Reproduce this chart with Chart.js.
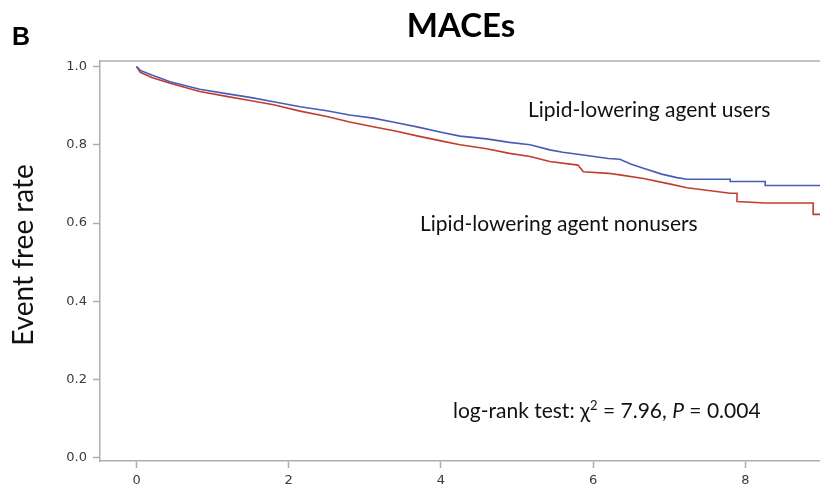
<!DOCTYPE html>
<html>
<head>
<meta charset="utf-8">
<script src="https://cdn.jsdelivr.net/npm/chart.js@4/dist/chart.umd.min.js"></script>
<style>
  html, body { margin: 0; padding: 0; background: #fff; }
  #wrap { width: 820px; height: 490px; position: relative; }
</style>
</head>
<body>
<div id="wrap"><canvas id="km" width="820" height="490"></canvas></div>
<script>
// Kaplan-Meier readings (years, event free rate)
const userTimes = [0, 0.05, 0.2, 0.44, 0.83, 1.2, 1.49, 1.8, 2.15, 2.5, 2.8, 3.11, 3.4, 3.7, 4.0, 4.25, 4.6, 4.9, 5.17, 5.43, 5.6, 5.87, 6.2, 6.35, 6.5, 6.66, 6.9, 7.1, 7.23, 7.8, 7.8, 8.26, 8.26, 9.05];
const userRates = [1.0, 0.99, 0.978, 0.961, 0.942, 0.93, 0.921, 0.91, 0.897, 0.887, 0.876, 0.868, 0.857, 0.845, 0.832, 0.822, 0.815, 0.806, 0.8, 0.787, 0.781, 0.774, 0.765, 0.763, 0.75, 0.74, 0.725, 0.716, 0.712, 0.712, 0.706, 0.706, 0.696, 0.696];

const nonuserTimes = [0, 0.05, 0.2, 0.44, 0.83, 1.2, 1.49, 1.8, 2.15, 2.5, 2.8, 3.11, 3.4, 3.7, 4.0, 4.25, 4.6, 4.9, 5.17, 5.43, 5.8, 5.87, 6.2, 6.35, 6.66, 7.0, 7.23, 7.8, 7.89, 7.89, 8.26, 8.89, 8.89, 9.05];
const nonuserRates = [1.0, 0.985, 0.972, 0.957, 0.936, 0.923, 0.913, 0.902, 0.886, 0.872, 0.858, 0.846, 0.835, 0.822, 0.81, 0.8, 0.79, 0.778, 0.77, 0.757, 0.748, 0.731, 0.727, 0.723, 0.714, 0.7, 0.69, 0.676, 0.676, 0.655, 0.651, 0.651, 0.622, 0.622];

const xTicks = [0, 2, 4, 6, 8];
const yTicks = [0, 0.2, 0.4, 0.6, 0.8, 1.0];

const COLORS = {
  users:    "rgb(72,92,182)",
  nonusers: "rgb(192,62,48)",
  axis:     "#a7afb7",
  tickText: "#3a3a3a",
  text:     "#111",
};

const toPoints = (xs, ys) => xs.map((x, i) => ({ x, y: ys[i] }));

const overlay = {
  id: "overlay",
  afterDraw(chart) {
    const { ctx, chartArea } = chart;
    ctx.save();
    // top frame line
    ctx.strokeStyle = COLORS.axis;
    ctx.lineWidth = 1.5;
    ctx.beginPath();
    ctx.moveTo(chartArea.left, chartArea.top);
    ctx.lineTo(chartArea.right, chartArea.top);
    ctx.stroke();

    ctx.fillStyle = "#000";
    ctx.textBaseline = "alphabetic";
    ctx.textAlign = "left";
    ctx.font = "bold 25px 'Liberation Sans', Arial, sans-serif";
    ctx.fillText("B", 12, 45);

    ctx.textAlign = "center";
    ctx.font = "bold 33px Lato, sans-serif";
    ctx.fillText("MACEs", 461, 37);

    // y axis title
    ctx.save();
    ctx.translate(33, 255);
    ctx.rotate(-Math.PI / 2);
    ctx.font = "28px Lato, sans-serif";
    ctx.fillStyle = COLORS.text;
    ctx.fillText("Event free rate", 0, 0);
    ctx.restore();

    ctx.fillStyle = COLORS.text;
    ctx.textAlign = "left";
    ctx.font = "21px Lato, sans-serif";
    ctx.fillText("Lipid-lowering agent users", 528, 117);
    ctx.fillText("Lipid-lowering agent nonusers", 420, 231);

    // log-rank annotation with superscript and italic P
    let x = 453;
    const base = 418;
    const parts = [
      ["log-rank test: \u03C7", "21px Lato, sans-serif", 0],
      ["2", "13px Lato, sans-serif", -8],
      [" = 7.96, ", "21px Lato, sans-serif", 0],
      ["P", "italic 21px Lato, sans-serif", 0],
      [" = 0.004", "21px Lato, sans-serif", 0],
    ];
    parts.forEach(([t, f, dy]) => {
      ctx.font = f;
      ctx.fillText(t, x, base + dy);
      x += ctx.measureText(t).width;
    });
    ctx.restore();
  },
};

new Chart(document.getElementById("km"), {
  type: "line",
  data: {
    datasets: [
      {
        label: "Lipid-lowering agent users",
        data: toPoints(userTimes, userRates),
        borderColor: COLORS.users,
        borderWidth: 1.6,
        pointRadius: 0,
        tension: 0,
        fill: false,
      },
      {
        label: "Lipid-lowering agent nonusers",
        data: toPoints(nonuserTimes, nonuserRates),
        borderColor: COLORS.nonusers,
        borderWidth: 1.6,
        pointRadius: 0,
        tension: 0,
        fill: false,
      },
    ],
  },
  options: {
    responsive: false,
    animation: false,
    events: [],
    layout: { padding: { top: 61, left: 0, right: 0, bottom: 0 } },
    plugins: { legend: { display: false }, title: { display: false }, tooltip: { enabled: false } },
    scales: {
      x: {
        type: "linear",
        min: -0.48,
        max: 8.98,
        afterBuildTicks: (s) => { s.ticks = xTicks.map((v) => ({ value: v })); },
        afterFit: (s) => { s.height = 29; },
        border: { color: COLORS.axis, width: 1.5 },
        grid: { drawOnChartArea: false, color: COLORS.axis, tickLength: 7, tickWidth: 1.5 },
        ticks: {
          color: COLORS.tickText,
          font: { family: "'DejaVu Sans', sans-serif", size: 13 },
          padding: 5,
          maxRotation: 0,
          callback: (v) => String(v),
        },
      },
      y: {
        min: -0.008,
        max: 1.014,
        afterBuildTicks: (s) => { s.ticks = yTicks.map((v) => ({ value: v })); },
        afterFit: (s) => { s.width = 100; },
        border: { color: COLORS.axis, width: 1.5 },
        grid: { drawOnChartArea: false, color: COLORS.axis, tickLength: 7, tickWidth: 1.5 },
        ticks: {
          color: COLORS.tickText,
          font: { family: "'DejaVu Sans', sans-serif", size: 13 },
          padding: 6,
          callback: (v) => v.toFixed(1),
        },
      },
    },
  },
  plugins: [overlay],
});
</script>
</body>
</html>
